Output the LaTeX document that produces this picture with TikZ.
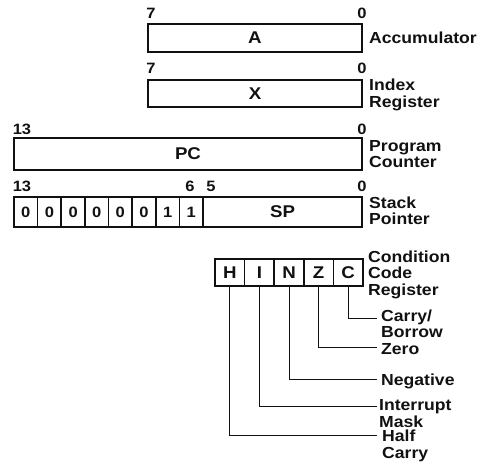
\documentclass[tikz,border=0pt]{standalone}
\usepackage{fontspec}
\setmainfont{Liberation Sans}[FakeStretch=1.1]
\definecolor{regInk}{HTML}{111111}

\tikzset{
  regbox/.style={draw=regInk, line width=1.6pt, inner sep=0pt, outer sep=0pt,
    text=regInk, font=\fontsize{17}{17}\selectfont\bfseries},
  bitcell/.style={regbox, minimum width=23.6, minimum height=30,
    font=\fontsize{15}{15}\selectfont\bfseries},
  flagcell/.style={regbox, minimum width=29.6, minimum height=27},
  bitnum/.style={inner sep=0pt, text=regInk, font=\fontsize{15}{15}\selectfont\bfseries},
  regname/.style={anchor=west, align=left, inner sep=0pt, text=regInk,
    font=\fontsize{16}{16.5}\selectfont\bfseries},
  leader/.style={draw=regInk, line width=1pt},
}

\begin{document}
\begin{tikzpicture}[x=1pt, y=-1pt]
  \useasboundingbox (0,0) rectangle (485,465);

  % accumulator and index register
  \node[regbox, minimum width=214, minimum height=28] (acc) at (255,38) {A};
  \node[bitnum] (accHi) at (151,13) {7};
  \node[bitnum] (accLo) at (362,13) {0};
  \node[regname] (accName) at (369,38) {Accumulator};

  \node[regbox, minimum width=214, minimum height=27] (idx) at (255,93.5) {X};
  \node[bitnum] (idxHi) at (151,68) {7};
  \node[bitnum] (idxLo) at (362,68) {0};
  \node[regname] (idxName) at (369,95) {Index\\Register};

  % program counter
  \node[regbox, minimum width=348, minimum height=32] (pc) at (188,154) {PC};
  \node[bitnum] (pcHi) at (22,129) {13};
  \node[bitnum] (pcLo) at (362,129) {0};
  \node[regname] (pcName) at (369,154) {Program\\Counter};

  % stack pointer
  \node[bitcell] (sp13) at (25.8,212) {0};
  \node[bitcell] (sp12) at (49.4,212) {0};
  \node[bitcell] (sp11) at (73.1,212) {0};
  \node[bitcell] (sp10) at (96.7,212) {0};
  \node[bitcell] (sp9) at (120.3,212) {0};
  \node[bitcell] (sp8) at (143.9,212) {0};
  \node[bitcell] (sp7) at (167.6,212) {1};
  \node[bitcell] (sp6) at (191.2,212) {1};
  \node[regbox, minimum width=159, minimum height=30] (sp) at (282.5,212) {SP};
  \node[bitnum] (spHi) at (22,186) {13};
  \node[bitnum] (spSix) at (190,186) {6};
  \node[bitnum] (spFive) at (211,186) {5};
  \node[bitnum] (spLo) at (362,186) {0};
  \node[regname] (spName) at (369,211) {Stack\\Pointer};

  % condition code register
  \node[flagcell] (h) at (229.8,272.5) {H};
  \node[flagcell] (i) at (259.4,272.5) {I};
  \node[flagcell] (n) at (289,272.5) {N};
  \node[flagcell] (z) at (318.6,272.5) {Z};
  \node[flagcell] (c) at (348.2,272.5) {C};
  \node[regname] (ccrName) at (368,274.5) {Condition\\Code\\Register};

  \coordinate (cEnd) at (377,319);
  \coordinate (zEnd) at (377,347);
  \coordinate (nEnd) at (377,379);
  \coordinate (iEnd) at (377,406);
  \coordinate (hEnd) at (377,435);
  \draw[leader] (c.south) |- (cEnd);
  \draw[leader] (z.south) |- (zEnd);
  \draw[leader] (n.south) |- (nEnd);
  \draw[leader] (i.south) |- (iEnd);
  \draw[leader] (h.south) |- (hEnd);

  \node[regname] (cName) at (381,324) {Carry/\\Borrow};
  \node[regname] (zName) at (381,349) {Zero};
  \node[regname] (nName) at (381,381) {Negative};
  \node[regname] (iName) at (379,413.5) {Interrupt\\Mask};
  \node[regname] (hName) at (382,446) {Half\\Carry};
\end{tikzpicture}
\end{document}
